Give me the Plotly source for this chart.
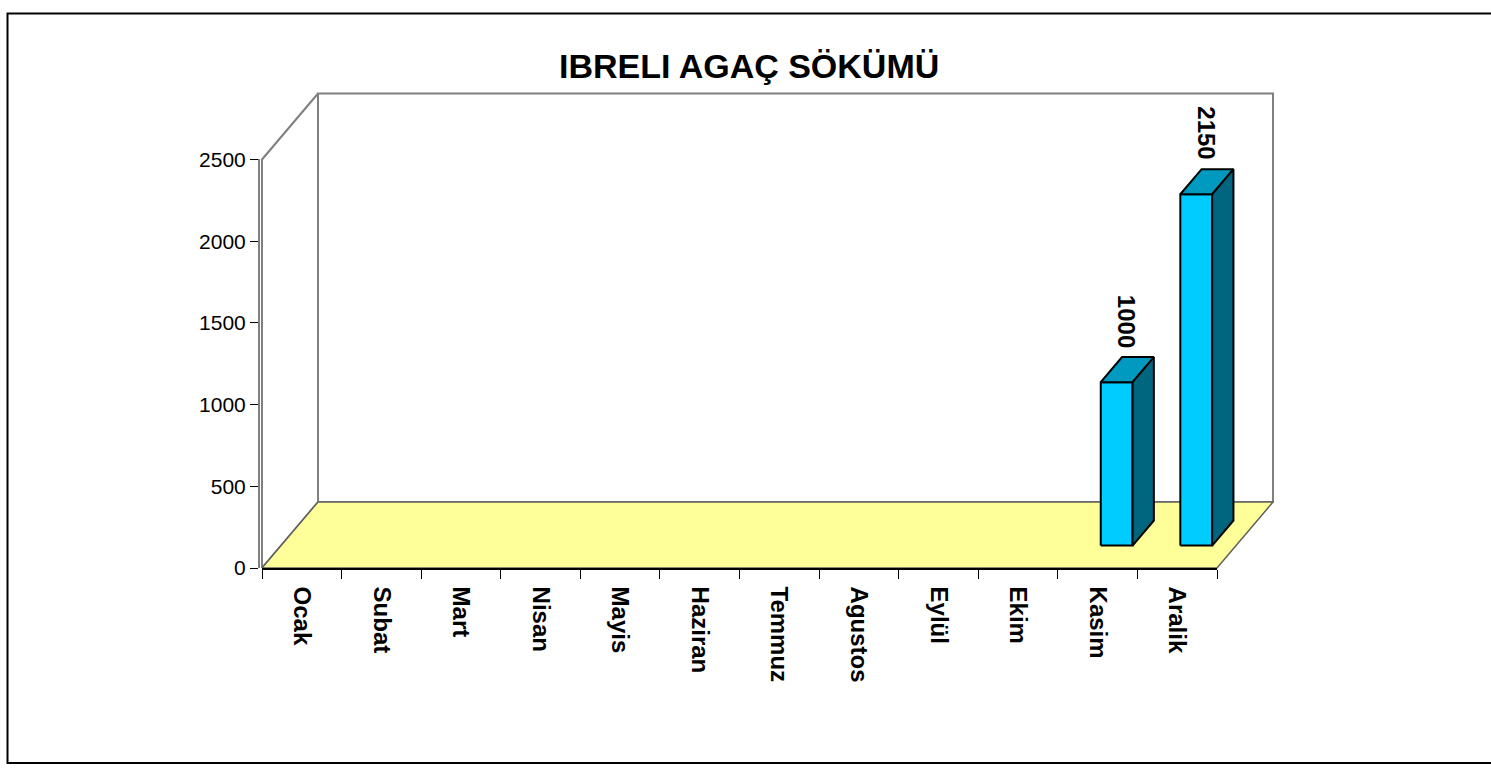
import plotly.graph_objects as go

# ---------------- data ----------------
months = ["Ocak", "Subat", "Mart", "Nisan", "Mayis", "Haziran",
          "Temmuz", "Agustos", "Eylül", "Ekim", "Kasim", "Aralik"]
values = [0, 0, 0, 0, 0, 0, 0, 0, 0, 0, 1000, 2150]
y_tick_vals = [0, 500, 1000, 1500, 2000, 2500]
title_text = "IBRELI AGAÇ SÖKÜMÜ"

# ---------------- layout frame (pixels) ----------------
W, H = 1491, 776
FX0, FX1 = 262, 1217        # front plane left / right
FY0, FY1 = 573, 152         # pixel rows of value 0 and of the top tick
DEPTH_PX = (56, -68)        # 3-D depth vector
VMAX = y_tick_vals[-1]
n = len(months)
sx = (FX1 - FX0) / n
sy = (FY0 - FY1) / VMAX
du = DEPTH_PX[0] / sx
dv = -DEPTH_PX[1] / sy
xr = [-FX0 / sx, (W - FX0) / sx]
yr = [-(H - FY0) / sy, FY0 / sy]

BAR_W = 0.40
F0, F1 = 0.34, 0.72
FM = (F0 + F1) / 2

FONT = "Liberation Sans, Arial, sans-serif"
GRAY = "#808080"


def poly(pts, fill, line_color, line_width):
    xs = [p[0] for p in pts] + [pts[0][0]]
    ys = [p[1] for p in pts] + [pts[0][1]]
    return go.Scatter(x=xs, y=ys, mode="lines", fill="toself", fillcolor=fill,
                      line=dict(color=line_color, width=line_width),
                      hoverinfo="skip", showlegend=False, xaxis="x", yaxis="y")


traces = []
# back wall
traces.append(poly([(du, dv), (n + du, dv), (n + du, VMAX + dv), (du, VMAX + dv)],
                   "white", GRAY, 2))
# left wall
traces.append(poly([(0, 0), (du, dv), (du, VMAX + dv), (0, VMAX)], "white", GRAY, 2))
# floor
traces.append(poly([(0, 0), (n, 0), (n + du, dv), (du, dv)], "#FFFF99", "#606060", 1.5))

annotations = []
for i, v in enumerate(values):
    if v <= 0:
        continue
    c = i + 0.5
    xl = c - BAR_W / 2 + F0 * du
    xrr = c + BAR_W / 2 + F0 * du
    yb = F0 * dv
    yt = F0 * dv + v
    ddx = (F1 - F0) * du
    ddy = (F1 - F0) * dv
    # front face
    traces.append(poly([(xl, yb), (xrr, yb), (xrr, yt), (xl, yt)], "#00CCFF", "black", 2))
    # top face
    traces.append(poly([(xl, yt), (xrr, yt), (xrr + ddx, yt + ddy), (xl + ddx, yt + ddy)],
                       "#0099C0", "black", 2))
    # right side face
    traces.append(poly([(xrr, yb), (xrr + ddx, yb + ddy), (xrr + ddx, yt + ddy), (xrr, yt)],
                       "#006680", "black", 2))
    annotations.append(dict(x=c + FM * du, y=FM * dv + v, xref="x", yref="y",
                            text="<b>%d</b>" % v, showarrow=False, textangle=90,
                            xanchor="center", yanchor="bottom", yshift=20,
                            font=dict(family=FONT, size=24, color="black")))

# dummy trace so the front axes are drawn
traces.append(go.Scatter(x=[None], y=[None], xaxis="x2", yaxis="y2",
                         hoverinfo="skip", showlegend=False))

fig = go.Figure(traces)

annotations.append(dict(x=749 / W, y=1 - 56 / H, xref="paper", yref="paper",
                        text="<b>%s</b>" % title_text, showarrow=False,
                        xanchor="center", yanchor="middle",
                        font=dict(family=FONT, size=34, color="black")))

fig.update_layout(
    width=W, height=H,
    margin=dict(l=0, r=0, t=0, b=0),
    paper_bgcolor="white", plot_bgcolor="rgba(0,0,0,0)",
    showlegend=False,
    xaxis=dict(domain=[0, 1], range=xr, visible=False, fixedrange=True),
    yaxis=dict(domain=[0, 1], range=yr, visible=False, fixedrange=True),
    xaxis2=dict(domain=[FX0 / W, FX1 / W], range=[0, n], anchor="y2",
                tickmode="array", tickvals=[i + 0.5 for i in range(n)], ticktext=months,
                ticks="", tickangle=90, ticklabelstandoff=12,
                tickfont=dict(family=FONT, size=24, color="black", weight="bold"),
                minor=dict(tickmode="array", tickvals=list(range(n + 1)), ticks="outside",
                           ticklen=9, tickcolor="black", tickwidth=1),
                showline=True, linecolor="black", linewidth=1.5,
                showgrid=False, zeroline=False, fixedrange=True),
    yaxis2=dict(domain=[(H - FY0) / H, (H - FY1) / H], range=[0, VMAX],
                anchor="free", position=(FX0 - 3) / W,
                tickmode="array", tickvals=y_tick_vals,
                ticks="outside", ticklen=8, tickcolor="black", tickwidth=1,
                tickfont=dict(family=FONT, size=21, color="black"),
                showline=True, linecolor=GRAY, linewidth=2,
                showgrid=False, zeroline=False, fixedrange=True),
    annotations=annotations,
    shapes=[dict(type="rect", xref="paper", yref="paper",
                 x0=7.5 / W, x1=1.01, y0=1 - 774 / H, y1=1 - 1.5 / H,
                 line=dict(color="black", width=2), fillcolor="rgba(0,0,0,0)")],
)

fig.write_html("out.html", config={"displayModeBar": False},
               post_script="document.body.style.margin='0px';document.body.style.overflow='hidden';")
